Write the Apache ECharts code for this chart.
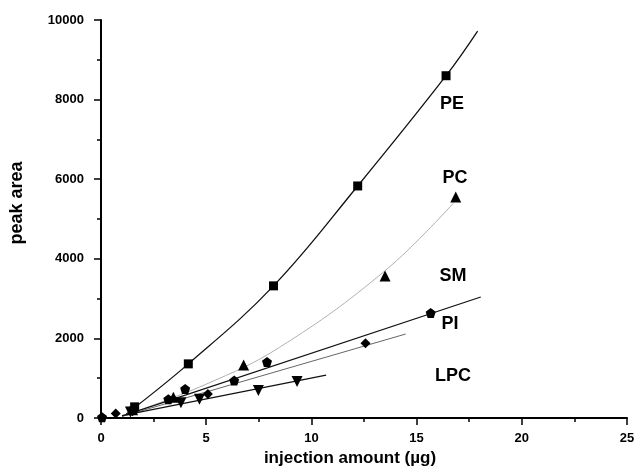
<!DOCTYPE html>
<html>
<head>
<meta charset="utf-8">
<script src="https://cdn.jsdelivr.net/npm/echarts@6/dist/echarts.min.js"></script>
<style>
  html, body { margin: 0; padding: 0; background: #fff; }
  #main { width: 639px; height: 468px; }
</style>
</head>
<body>
<div id="main"></div>
<script>
// measured points [x (µg), peak area]
var pePoints = [[1.6, 280], [4.15, 1360], [8.2, 3320], [12.2, 5830], [16.4, 8600]];
var pcPoints = [[1.5, 210], [3.44, 520], [6.78, 1330], [13.5, 3570], [16.86, 5550]];
var smPoints = [[0.05, 20], [1.55, 240], [3.2, 470], [4.0, 730], [6.33, 940], [7.89, 1410], [15.67, 2640]];
var piPoints = [[0.7, 115], [1.5, 170], [5.08, 600], [12.57, 1880]];
var lpcPoints = [[1.4, 150], [3.8, 385], [4.68, 470], [7.48, 690], [9.32, 915]];

// fitted lines
var peFit = [[1.2, 100], [4.15, 1360], [8.2, 3320], [12.2, 5830], [16.4, 8600], [17.9, 9720]];
var pcFit = [[1.2, 80], [5, 850], [8.5, 1780], [13.5, 3700], [16.75, 5400]];
var smFit = [[1.0, 50], [18.05, 3040]];
var piFit = [[1.0, 40], [14.48, 2110]];
var lpcFit = [[1.0, 60], [10.7, 1080]];

var labelNames = ['PE', 'PC', 'SM', 'PI', 'LPC'];

var pentagon = 'path://M0,-10L9.5,-3.1L5.9,8.1L-5.9,8.1L-9.5,-3.1Z';

var myChart = echarts.init(document.getElementById('main'));

function fitLine(data, color, width) {
    return {
        type: 'line',
        data: data,
        smooth: data.length > 2 ? 0.4 : false,
        symbol: 'none',
        lineStyle: { color: color, width: width },
        z: 2,
        silent: true
    };
}
function marks(data, symbol, size, rotate) {
    return {
        type: 'scatter',
        data: data,
        symbol: symbol,
        symbolSize: size,
        symbolRotate: rotate || 0,
        itemStyle: { color: '#000', opacity: 1 },
        z: 3
    };
}
function seriesLabel(i, x, y) {
    return {
        type: 'text', x: x, y: y,
        style: { text: labelNames[i], font: 'bold 18px ' + font, fill: '#000', textAlign: 'center', textVerticalAlign: 'middle' }
    };
}

var font = 'Liberation Sans, Arial, sans-serif';
var option = {
    animation: false,
    grid: { left: 101, right: 12, top: 20, bottom: 50, outerBoundsMode: 'none' },
    xAxis: {
        type: 'value',
        min: 0, max: 25, interval: 5,
        name: 'injection amount (\u00b5g)',
        nameLocation: 'middle',
        nameGap: 32,
        nameTextStyle: { fontFamily: font, fontSize: 17, fontWeight: 'bold', color: '#000', padding: [0, 28, 0, 0] },
        axisLine: { lineStyle: { color: '#000', width: 2 } },
        axisTick: { inside: false, length: 7, lineStyle: { color: '#000', width: 1.5 } },
        minorTick: { show: true, splitNumber: 2, length: 4, lineStyle: { color: '#000', width: 1.5 } },
        axisLabel: { fontFamily: font, fontSize: 13, fontWeight: 'bold', color: '#000', margin: 14 },
        splitLine: { show: false }
    },
    yAxis: {
        type: 'value',
        min: 0, max: 10000, interval: 2000,
        name: 'peak area',
        nameLocation: 'middle',
        nameGap: 75,
        nameRotate: 90,
        nameTextStyle: { fontFamily: font, fontSize: 18, fontWeight: 'bold', color: '#000', padding: [0, 0, 0, 32] },
        axisLine: { show: true, lineStyle: { color: '#000', width: 2 } },
        axisTick: { show: true, length: 7, lineStyle: { color: '#000', width: 1.5 } },
        minorTick: { show: true, splitNumber: 2, length: 4, lineStyle: { color: '#000', width: 1.5 } },
        axisLabel: {
            fontFamily: font, fontSize: 13, fontWeight: 'bold', color: '#000', margin: 17,
            formatter: function (v) { return String(v); }
        },
        splitLine: { show: false }
    },
    series: [
        fitLine(peFit, '#111', 1.3),
        fitLine(pcFit, '#b0b0b0', 1),
        fitLine(smFit, '#111', 1.3),
        fitLine(piFit, '#666', 1),
        fitLine(lpcFit, '#111', 1.3),
        marks(pePoints, 'rect', 9),
        marks(pcPoints, 'triangle', 11),
        marks(smPoints, pentagon, 10),
        marks(piPoints, 'diamond', 10),
        marks(lpcPoints, 'triangle', 11, 180)
    ],
    graphic: [
        seriesLabel(0, 452, 104),
        seriesLabel(1, 455, 178),
        seriesLabel(2, 453, 276),
        seriesLabel(3, 450, 324),
        seriesLabel(4, 453, 376)
    ]
};
myChart.setOption(option);
</script>
</body>
</html>
